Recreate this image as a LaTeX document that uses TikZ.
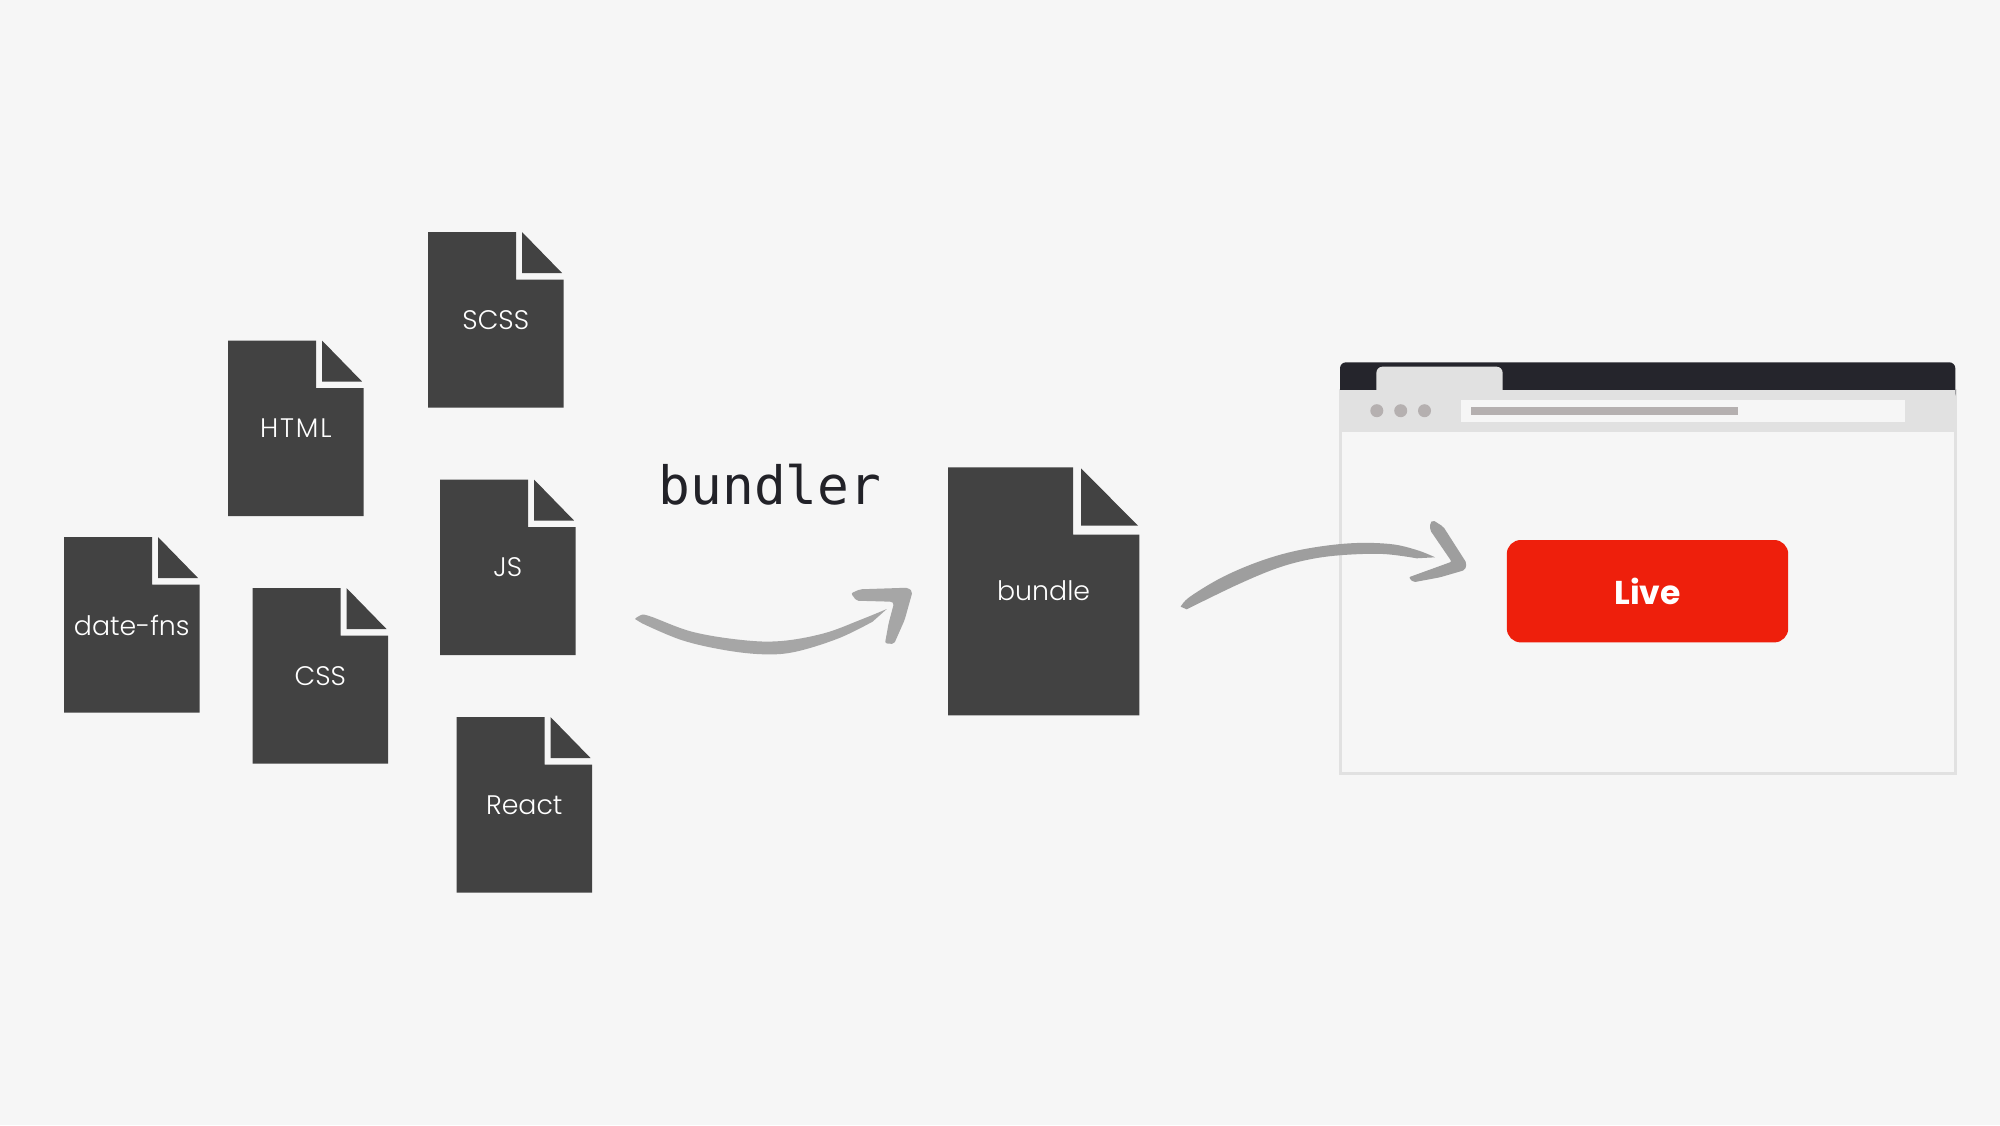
\documentclass[tikz,border=0pt]{standalone}
\usepackage{fontspec}
\setmainfont{Poppins}
\newfontfamily\lbl{Poppins Light}
\newfontfamily\lvf{Poppins}[UprightFont=* Bold]
\newfontfamily\mon{DejaVu Sans Mono}
\definecolor{bgc}{HTML}{F6F6F6}
\definecolor{docc}{HTML}{424242}
\definecolor{brush}{HTML}{A6A6A6}
\definecolor{brushb}{HTML}{9E9E9E}
\definecolor{barc}{HTML}{25252C}
\definecolor{chrome}{HTML}{E1E1E1}
\definecolor{dotc}{HTML}{B5B0B0}
\definecolor{redc}{HTML}{EE1F0C}
\definecolor{monoc}{HTML}{222228}
\tikzset{
  x=0.5pt,y=-0.5pt,
  docbody/.style={fill=docc,draw=none},
  doclabel/.style={text=white,font=\lbl\fontsize{13.4}{15}\selectfont,inner sep=0pt,anchor=center},
}
\newcommand{\smalldoc}[4]{%
  \begin{scope}[shift={(#2,#3)}]
    \fill[docbody] (0,0) -- (88,0) -- (88,47.5) -- (135.5,47.5) -- (135.5,175.5) -- (0,175.5) -- cycle;
    \fill[docbody] (94,0) -- (134,41) -- (94,41) -- cycle;
    \node[doclabel] (#1) at (67.8,88) {#4};
  \end{scope}}
\begin{document}
\begin{tikzpicture}
\useasboundingbox (0,0) rectangle (2000,1125);
\fill[bgc] (0,0) rectangle (2000,1125);
\smalldoc{scss}{428}{232}{SCSS}
\smalldoc{html}{228}{340.5}{\addfontfeature{LetterSpace=7}HTML}
\smalldoc{datefns}{64}{537}{date-fns}
\smalldoc{css}{252.5}{588}{CSS}
\smalldoc{js}{440}{479.5}{JS}
\smalldoc{react}{456.5}{717}{React}
% bundle
\fill[docbody] (948,467.3) -- (1073,467.3) -- (1073,534.7) -- (1139.3,534.7) -- (1139.3,715.3) -- (948,715.3) -- cycle;
\fill[docbody] (1081,468.3) -- (1138,525.7) -- (1081,525.7) -- cycle;
\node[doclabel] (bundle) at (1043.6,590.5) {bundle};
% bundler
\node[text=monoc,font=\mon\fontsize{26.4}{30}\selectfont,inner sep=0pt] (bundlerlabel) at (770,485) {bundler};
% arrow 1
\fill[brush] plot[smooth,tension=0.6] coordinates {(635,619) (640,615.5) (649.3,616) (692,631.7) (742,640) (781.4,641) (824,633.3) (860,620) (886.8,609)}
  -- plot[smooth,tension=0.6] coordinates {(872.5,621.7) (838.6,638.3) (795.7,651.7) (763.6,654.3) (724.3,650) (681.4,640) (642,623.3)} -- cycle;
\fill[brush,rounded corners=1pt] (851,593.3) -- (860,589.3) -- (908,587.7) -- (912.5,591.7) -- (904.6,620) -- (894,644) -- (885,643.3) -- (888.6,623.3) -- (894,603) -- (892,601.7) -- (856.4,600.7) -- cycle;
% browser
\fill[bgc] (1340,389) rectangle (1955,773);
\draw[chrome,line width=1.5pt] (1340,389) -- (1340,773) -- (1955,773) -- (1955,389);
\fill[barc,rounded corners=3pt] (1340,400) -- (1340,362.3) -- (1955.3,362.3) -- (1955.3,400) -- cycle;
\fill[chrome] (1340,389.7) rectangle (1955.3,431.7);
\fill[chrome,rounded corners=3pt] (1376.4,397) -- (1376.4,366.7) -- (1502.6,366.7) -- (1502.6,397) -- cycle;
\fill[dotc] (1376.8,410.7) circle[radius=6.5];
\fill[dotc] (1400.7,410.7) circle[radius=6.5];
\fill[dotc] (1424.5,410.7) circle[radius=6.5];
\fill[bgc] (1460.5,400) rectangle (1905.4,422);
\fill[dotc] (1471,407.3) rectangle (1737.6,414.7);
% arrow 2
\fill[brushb] plot[smooth,tension=0.6] coordinates {(1180.7,606.7) (1190,596.7) (1223.3,576.7) (1263.3,560) (1303.3,549.3) (1350,543.3) (1390,544) (1416.7,550) (1435,557.3)}
  -- plot[smooth,tension=0.6] coordinates {(1416.7,558.3) (1383.3,554) (1343.3,555) (1310,559.3) (1276.7,568.3) (1236.7,585) (1186.7,609.3)} -- cycle;
\fill[brushb,rounded corners=1pt] (1430,523.3) -- (1432.7,520) -- (1443.3,526.7) -- (1466.7,563.3) -- (1465,570) -- (1440,577.3) -- (1413.3,582.3) -- (1408.7,577.3) -- (1451.7,561.7) -- (1430,530) -- cycle;
% live
\node[fill=redc,rounded corners=7pt,minimum width=140.7pt,minimum height=51.2pt,inner sep=0pt,text=white,font=\lvf\fontsize{16.5}{18}\selectfont] (live) at (1647.5,591.2) {Live};
\end{tikzpicture}
\end{document}
